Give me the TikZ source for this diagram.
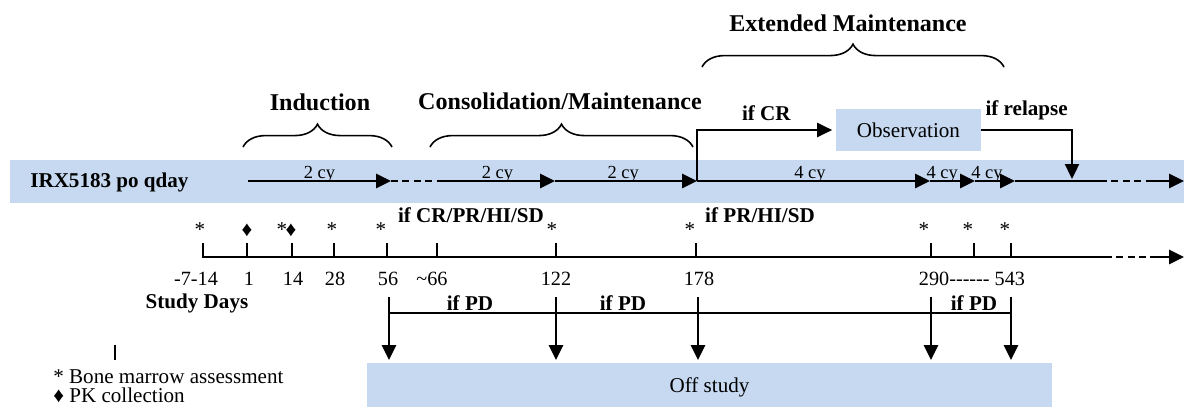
\documentclass[12pt,tikz,border=0pt]{standalone}
\usepackage{fontspec}
\setmainfont{Liberation Serif}
\usepackage{xcolor}
\usetikzlibrary{arrows.meta, decorations.pathreplacing, calc}
\definecolor{bandblue}{HTML}{C6D9F0}

\begin{document}
\begin{tikzpicture}[x=0.02cm, y=-0.02cm,
    flow/.style={line width=1.6pt, -{Triangle[length=8.5pt,width=8pt]}},
    branch/.style={line width=1.1pt, -{Triangle[length=8.5pt,width=8pt]}},
    dashseg/.style={line width=1.6pt, dash pattern=on 4pt off 2.5pt},
    cy/.style={anchor=base, yshift=1.7pt, inner sep=0pt, font=\fontsize{10.5}{12}\selectfont},
    phase/.style={inner sep=0pt, font=\fontsize{13.7}{16}\selectfont\bfseries},
    cond/.style={inner sep=0pt, font=\fontsize{12}{14}\selectfont\bfseries},
    phasebrace/.style={decorate, decoration={brace, amplitude=13pt}, line width=0.9pt},
    daylbl/.style={inner sep=0pt, font=\fontsize{11.5}{13}\selectfont},
    symb/.style={anchor=base, inner sep=0pt},
    shadebox/.style={fill=bandblue, inner sep=0pt}]
  \useasboundingbox (0,0) rectangle (1184,406);

  % drug band
  \fill[bandblue] (10,160) rectangle (1184,203);
  \node[anchor=west, inner sep=0pt, font=\bfseries] (drug) at (30,182) {IRX5183 po qday};

  \coordinate (m0) at (248,181);
  \coordinate (m1) at (391,181);
  \coordinate (m2) at (442,181);
  \coordinate (m3) at (555,181);
  \coordinate (m4) at (697,181);
  \coordinate (m5) at (930,181);
  \coordinate (m6) at (975,181);
  \coordinate (m7) at (1015,181);
  \coordinate (m8) at (1100,181);
  \coordinate (m9) at (1148,181);
  \coordinate (m10) at (1184,181);

  \draw[flow] (m0) -- node[cy, pos=0.5]{2 cy} (m1);
  \draw[dashseg] (m1) -- (m2);
  \draw[flow] (m2) -- node[cy, pos=0.49]{2 cy} (m3);
  \draw[flow] (m3) -- node[cy, pos=0.48]{2 cy} (m4);
  \draw[flow] (m4) -- node[cy, pos=0.485]{4 cy} (m5);
  \draw[flow] (m5) -- node[cy, pos=0.27]{4 cy} (m6);
  \draw[flow] (m6) -- node[cy, pos=0.3]{4 cy} (m7);
  \draw[line width=1.6pt] (m7) -- (m8);
  \draw[dashseg] (m8) -- (m9);
  \draw[flow] (m9) -- (m10);

  % observation branch
  \node[shadebox, minimum width=2.9cm, minimum height=0.84cm] (obs) at (908.5,130) {Observation};
  \coordinate (cr) at (697,130);
  \coordinate (rl) at (1072,130);
  \coordinate (rlend) at (1072,179);
  \draw[branch, shorten >=2pt] (m4) -- (cr) -- node[cond, above=5pt]{if CR} (obs.west);
  \draw[branch] (obs.east) -- node[cond, above=5pt]{if relapse} (rl) -- (rlend);

  % phases
  \draw[phasebrace] (243,147) -- (392,147);
  \draw[phasebrace] (430,147) -- (693,147);
  \draw[phasebrace] (702,67) -- (1004,67);
  \node[phase] (induct) at (320,102) {Induction};
  \node[phase] (consol) at (560,101) {Consolidation/Maintenance};
  \node[phase] (extmaint) at (848,23) {Extended Maintenance};

  % study days axis
  \draw[line width=1.6pt] (203,243) -- (203,257) -- (1105,257);
  \draw[dashseg] (1105,257) -- (1150,257);
  \draw[flow] (1150,257) -- (1184,257);
  \foreach \x in {247,292,334,387,437,556,696,931,974,1011}
    \draw[line width=1pt] (\x,243) -- (\x,257);
  \foreach \x/\d [count=\i] in {196/-7-14, 249/1, 293/14, 335/28, 388/56,
      432/\textasciitilde66, 556/122, 699/178, 972/290-{}-{}-{}-{}-{}- 543}
    \node[daylbl] (day\i) at (\x,279) {\d};
  \foreach \x/\s [count=\i] in {200/*, 247/♦, 282/*, 291/♦, 332/*, 381/*,
      552/*, 690/*, 924/*, 968/*, 1005/*}
    \node[symb] (sym\i) at (\x,236) {\s};
  \node[cond] (resp1) at (471,215) {if CR/PR/HI/SD};
  \node[cond] (resp2) at (760,215) {if PR/HI/SD};
  \node[cond] (days) at (197,303) {Study Days};

  % progression
  \node[shadebox, minimum width=13.7cm, minimum height=0.96cm] (off) at (709.5,387) {Off study};
  \draw[line width=1pt] (389,313) -- (1011,313);
  \foreach \x in {389,556,698,931,1011}
    \draw[branch, line width=1.3pt] (\x,297) -- (\x,360);
  \foreach \x [count=\i] in {470,623,974}
    \node[cond] (pd\i) at (\x,303) {if PD};

  % legend
  \draw[line width=1.2pt] (115,345) -- (115,360);
  \node[anchor=base west, inner sep=0pt] (leg1) at (53,383) {* Bone marrow assessment};
  \node[anchor=base west, inner sep=0pt] (leg2) at (53,402) {♦ PK collection};
\end{tikzpicture}
\end{document}
